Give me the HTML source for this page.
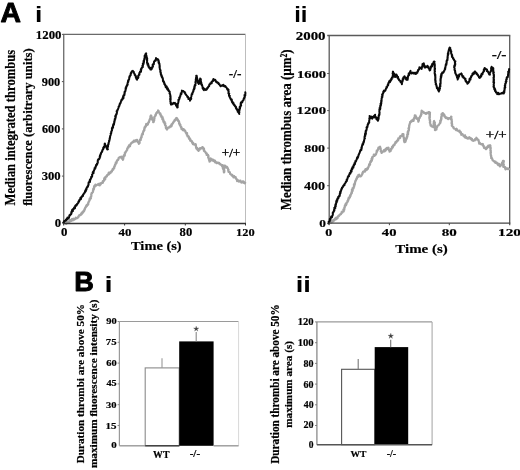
<!DOCTYPE html>
<html><head><meta charset="utf-8">
<style>
html,body{margin:0;padding:0;background:#fff;width:520px;height:470px;overflow:hidden}
svg{display:block;will-change:transform;filter:blur(0.3px)}
</style></head><body>
<svg width="520" height="470" viewBox="0 0 520 470" font-family="Liberation Serif, serif">
<rect width="520" height="470" fill="#fff"/>
<line x1="63.1" y1="34.4" x2="245.5" y2="34.4" stroke="#6a6a6a" stroke-width="1.2"/>
<line x1="245.5" y1="34.4" x2="245.5" y2="223.5" stroke="#bdbdbd" stroke-width="1.0"/>
<line x1="63.7" y1="34.4" x2="63.7" y2="223.5" stroke="#747474" stroke-width="1.4"/>
<line x1="61.900000000000006" y1="34.4" x2="63.7" y2="34.4" stroke="#555" stroke-width="1.0"/>
<line x1="61.900000000000006" y1="81.6" x2="63.7" y2="81.6" stroke="#555" stroke-width="1.0"/>
<line x1="61.900000000000006" y1="128.9" x2="63.7" y2="128.9" stroke="#555" stroke-width="1.0"/>
<line x1="61.900000000000006" y1="176.1" x2="63.7" y2="176.1" stroke="#555" stroke-width="1.0"/>
<polyline fill="none" stroke="#a4a4a4" stroke-width="2.2" stroke-linejoin="round" stroke-linecap="round" points="66.2,223.9 66.0,222.1 67.0,223.1 67.3,222.1 67.7,222.4 68.1,221.4 68.5,221.6 69.1,222.4 69.7,221.4 69.8,220.7 69.9,220.0 70.6,220.3 71.0,221.1 71.6,220.3 71.8,219.1 72.3,219.1 72.8,220.4 73.4,218.7 74.0,219.6 74.3,219.6 74.8,219.2 74.9,219.3 75.8,217.6 76.0,218.4 76.3,217.9 76.7,218.4 77.2,218.0 77.5,217.9 78.2,216.8 78.3,217.4 78.8,216.3 78.8,215.7 79.4,215.1 79.9,215.0 80.3,214.8 80.6,215.2 80.7,214.5 81.1,214.4 81.2,213.3 81.6,214.3 82.0,212.4 82.4,213.2 82.8,211.9 83.0,211.4 83.2,211.4 83.2,212.2 83.4,211.2 84.3,210.3 84.0,211.1 84.4,210.4 84.3,209.4 84.6,209.5 84.8,209.6 85.0,208.8 85.2,207.6 86.0,207.0 85.7,207.5 86.1,206.0 86.8,205.8 86.3,205.7 86.9,206.0 86.8,204.9 87.0,204.7 87.7,204.8 88.1,204.5 88.3,204.0 88.2,202.7 88.6,202.5 88.4,202.3 89.2,201.3 89.1,201.4 89.3,200.5 89.7,200.2 89.7,200.1 89.4,199.9 89.7,198.5 89.8,198.3 90.0,198.7 90.5,198.9 90.9,198.4 90.6,197.0 90.8,196.8 91.2,196.8 91.4,195.3 91.3,195.4 91.2,194.1 91.6,193.8 92.0,193.6 91.7,193.0 92.0,192.6 92.3,192.6 92.3,192.5 92.4,192.6 93.1,191.8 92.9,191.0 93.2,189.7 93.2,190.1 93.2,188.9 93.9,189.0 93.8,189.6 94.0,187.9 94.4,187.6 93.9,187.7 94.1,186.5 94.8,186.7 94.4,185.8 95.0,185.5 95.2,185.4 95.4,184.5 96.1,185.6 96.4,185.3 97.0,184.9 97.6,184.6 98.4,184.5 98.4,183.9 98.9,185.2 99.8,185.3 100.2,183.3 100.6,184.4 101.0,183.6 101.1,183.2 101.8,182.6 102.0,182.7 102.7,182.9 103.0,182.7 102.8,181.2 103.2,180.9 103.4,181.2 104.0,180.6 104.1,179.3 104.0,180.5 104.1,179.1 104.3,178.1 105.2,179.3 105.2,177.3 105.2,177.1 105.7,177.5 105.9,176.9 106.0,176.5 106.9,176.5 106.6,175.7 107.4,174.9 107.8,174.9 108.0,174.4 108.5,174.7 108.6,173.2 108.8,172.6 109.3,173.9 109.4,172.9 110.0,172.4 110.5,173.0 110.9,171.9 111.5,171.3 111.7,171.6 112.0,171.5 111.8,170.7 112.2,170.4 112.9,169.9 112.5,169.2 113.3,169.5 113.5,169.0 113.3,168.8 114.0,167.7 114.4,167.8 114.0,167.2 114.7,165.7 114.9,166.0 114.7,165.9 114.9,165.1 115.4,164.1 115.7,164.0 115.6,164.5 115.8,162.3 116.3,163.3 116.6,162.7 116.7,162.1 116.8,161.0 117.2,160.1 117.1,161.0 117.4,160.5 118.1,159.5 118.3,159.8 118.7,158.2 118.5,158.2 119.0,157.6 118.9,157.7 120.1,157.1 120.3,156.9 120.8,157.5 121.2,156.9 121.5,157.1 122.0,156.7 122.1,157.5 122.2,158.8 122.4,158.6 122.7,158.4 122.8,159.4 122.9,159.8 123.2,159.0 123.1,157.8 123.3,157.4 123.4,158.3 123.4,157.6 123.8,156.3 123.9,155.4 124.2,155.1 124.3,154.9 124.8,155.6 124.7,154.6 125.2,153.6 124.7,153.0 125.0,153.4 125.3,152.3 125.7,151.7 125.9,151.9 125.8,151.9 126.0,151.6 126.6,150.5 126.6,150.9 126.9,150.1 127.2,150.0 127.3,149.7 127.2,148.7 127.8,147.8 127.9,147.1 128.6,147.1 128.5,147.7 128.6,147.4 128.9,145.4 129.3,145.6 130.0,146.2 130.2,145.0 130.3,144.3 130.8,144.2 130.7,144.2 131.0,143.4 131.9,142.7 131.7,142.6 132.2,142.7 132.5,142.2 132.9,141.7 133.5,141.6 133.7,142.1 133.9,140.7 134.9,141.0 135.2,140.3 135.5,141.4 135.8,141.0 136.4,140.1 137.1,139.9 137.0,140.7 137.2,141.4 137.7,141.3 138.0,142.4 138.6,142.5 138.5,142.1 138.9,141.8 138.9,143.9 139.1,143.4 139.7,142.9 139.4,141.3 140.1,140.4 139.8,140.5 140.0,139.7 140.5,139.2 140.9,139.8 140.4,139.8 140.7,138.6 141.1,137.5 141.3,137.0 141.2,138.0 141.8,136.9 141.8,137.1 141.6,135.9 141.8,134.8 141.9,134.5 142.0,134.1 142.4,134.3 142.9,134.4 142.9,133.2 143.2,132.1 142.8,132.9 143.4,131.3 143.3,131.1 143.6,130.9 143.7,131.1 144.2,130.2 144.1,129.3 144.5,130.1 144.2,129.2 144.7,128.7 144.4,128.1 144.7,127.0 145.2,127.4 145.4,127.1 145.6,126.2 145.3,126.3 146.1,126.0 146.1,124.2 146.2,124.0 146.9,124.5 147.0,124.9 147.9,124.5 148.0,123.1 148.0,123.7 148.6,122.2 148.9,122.3 148.8,121.6 149.2,121.3 149.4,120.2 149.6,120.1 149.9,119.5 149.6,119.7 149.8,119.2 150.3,118.2 150.3,118.7 150.5,117.8 150.4,117.2 150.5,116.6 150.4,116.5 150.6,116.1 151.0,115.4 150.8,116.3 151.5,116.1 151.5,117.3 151.8,117.8 151.6,117.3 152.1,117.9 151.7,119.4 152.0,118.8 152.3,119.2 152.8,119.8 152.8,120.4 153.2,120.2 153.3,120.9 153.1,122.2 153.4,120.8 153.7,121.9 153.8,120.7 154.0,121.0 153.6,119.4 154.3,120.1 153.9,119.3 154.5,118.6 154.4,118.1 154.2,117.1 154.3,117.5 154.6,117.0 155.0,116.2 155.6,115.7 155.4,115.2 155.5,114.5 155.9,115.1 155.8,114.9 156.4,112.9 156.8,113.1 157.0,112.2 157.3,112.5 157.8,112.2 158.1,112.1 158.1,110.4 158.6,111.0 158.7,111.8 159.3,112.7 159.7,113.7 159.6,113.4 159.9,114.0 160.4,113.5 160.5,114.9 160.8,115.8 161.0,115.1 161.6,116.1 161.3,116.8 161.7,117.5 162.1,117.7 162.5,117.6 162.7,117.2 162.4,119.1 162.3,119.2 163.2,119.7 163.2,119.0 163.2,120.4 163.2,120.5 163.7,120.5 163.3,121.7 164.2,122.5 164.2,122.0 164.6,121.9 164.4,123.7 165.1,123.4 165.3,123.3 165.2,123.7 165.1,124.4 165.1,125.2 165.5,125.4 165.8,125.5 165.8,126.8 165.9,127.9 165.8,127.5 166.2,127.9 166.7,128.7 166.5,128.9 166.9,129.5 167.6,128.6 167.7,128.2 168.1,127.5 168.4,127.8 169.5,127.4 169.7,126.5 170.0,126.6 170.4,126.0 170.7,126.6 171.5,126.3 171.5,124.4 171.5,125.5 172.2,124.6 172.2,124.4 172.2,124.0 172.5,123.9 172.8,123.1 173.1,122.5 173.3,122.8 173.7,121.5 173.8,121.9 174.3,121.1 174.7,119.8 174.8,120.3 175.0,120.6 175.6,119.2 175.7,119.5 176.0,118.4 176.4,118.0 176.2,118.2 176.9,118.2 177.0,119.6 177.5,119.0 177.9,119.7 177.8,120.3 178.3,121.2 178.5,121.2 178.5,120.5 178.7,121.1 179.2,122.0 179.1,123.1 179.0,123.7 179.3,122.7 179.6,123.8 180.0,124.3 179.6,123.9 179.8,125.2 180.5,124.9 180.4,126.1 181.0,127.4 181.2,127.2 181.2,126.9 181.5,127.2 181.4,128.9 181.8,129.1 182.2,128.6 182.6,129.3 182.7,130.1 183.6,129.1 183.5,130.5 184.2,129.7 184.5,130.0 185.1,130.9 185.1,130.5 185.3,131.5 185.5,131.4 185.7,132.7 186.5,133.4 186.5,133.7 186.4,133.1 187.1,133.1 186.8,135.0 187.1,134.3 187.5,135.9 187.5,136.4 187.9,136.3 188.2,136.0 188.8,136.5 188.9,138.2 189.0,138.7 189.0,137.7 189.5,138.0 190.1,139.2 190.3,139.2 190.1,140.7 190.5,140.3 190.7,140.9 191.3,140.6 191.3,141.2 192.1,141.3 192.0,142.5 192.6,143.2 192.9,143.7 192.9,144.2 193.2,142.9 193.8,144.3 194.5,144.8 195.4,145.0 195.6,144.1 196.0,145.3 195.5,145.5 195.5,145.0 196.1,146.7 196.4,147.3 196.0,147.8 196.7,148.1 196.5,147.9 196.5,148.8 197.5,148.2 197.7,150.0 197.7,150.2 197.9,149.5 198.5,150.9 198.9,149.1 199.6,149.7 199.9,148.8 200.0,148.2 200.3,148.5 200.8,148.6 201.6,147.8 202.2,148.1 202.3,147.0 203.2,147.6 202.7,148.1 203.1,148.0 203.6,148.1 203.4,149.1 204.0,148.7 204.1,150.3 203.8,150.6 204.3,151.1 204.4,150.9 204.7,151.1 205.0,151.7 205.1,151.7 205.6,152.3 206.0,153.3 206.1,153.3 206.5,153.1 206.6,154.9 207.5,155.0 207.2,154.2 207.4,154.9 208.0,154.8 208.2,156.4 208.6,156.0 208.1,157.6 208.5,157.2 208.4,157.5 208.6,158.0 208.7,158.9 209.2,159.0 209.0,159.8 209.4,160.8 209.6,160.2 209.5,160.9 209.5,161.7 209.7,161.0 209.5,160.0 210.4,161.2 210.2,159.3 210.7,159.6 210.7,159.5 210.7,158.3 211.5,159.5 212.1,159.3 212.5,160.4 212.6,160.6 212.7,159.5 213.6,159.9 213.8,161.2 214.4,160.6 214.9,160.5 215.1,162.3 215.5,161.5 216.3,162.6 216.6,163.1 217.1,162.8 217.4,162.9 217.5,162.7 217.9,162.5 218.5,163.4 219.2,163.0 219.5,163.4 219.6,163.8 220.5,164.7 220.5,164.1 220.7,164.6 221.8,165.0 222.0,166.0 221.9,165.2 222.6,165.2 222.7,166.5 222.6,167.0 222.8,167.4 222.8,168.1 223.0,168.7 223.6,168.7 223.0,168.8 223.8,169.8 223.8,170.0 224.0,171.3 223.9,171.2 223.7,170.6 223.9,172.4 224.3,172.0 224.3,170.2 223.7,170.2 223.7,170.3 224.3,170.4 223.7,169.5 224.1,169.1 223.9,167.8 224.2,168.6 224.0,167.5 223.5,166.5 223.6,166.0 223.6,166.3 224.4,165.6 225.0,165.5 225.4,166.7 225.7,166.4 226.2,167.7 226.3,166.5 227.2,166.9 227.2,167.6 227.4,167.6 227.6,167.8 228.1,169.2 228.1,169.2 228.3,170.9 228.6,169.7 228.2,170.3 228.5,171.8 228.9,171.6 229.5,172.5 229.8,172.5 229.9,172.3 230.1,173.6 230.2,174.0 230.4,174.1 231.1,174.5 231.1,174.3 231.7,175.4 232.2,174.9 232.5,175.4 232.7,176.2 233.4,176.1 233.5,177.3 234.1,176.1 234.8,177.5 235.7,177.7 235.7,178.0 235.7,177.2 235.9,178.5 236.4,179.1 236.8,179.8 236.8,179.2 237.1,181.1 237.5,179.7 238.0,180.7 238.3,180.5 239.0,181.7 239.5,180.9 240.0,180.6 240.4,180.6 240.4,180.8 241.3,182.5 241.7,182.0 242.3,182.4 243.0,182.5 242.9,181.3 243.8,181.8 244.1,183.0 244.1,182.0 244.7,183.3 245.2,182.8"/>
<polyline fill="none" stroke="#0a0a0a" stroke-width="2.0" stroke-linejoin="round" stroke-linecap="round" points="63.2,222.7 63.7,222.4 64.2,221.1 64.1,222.1 64.7,220.7 65.5,220.8 65.8,220.4 66.0,219.5 66.3,220.4 66.6,219.8 67.1,218.3 67.5,218.9 67.5,217.5 68.2,218.0 68.5,218.4 68.7,218.1 68.7,217.5 69.0,217.4 69.6,215.5 69.3,215.3 70.1,215.3 70.1,214.7 70.3,214.5 70.4,214.4 70.7,214.6 71.0,214.2 71.3,213.9 71.3,212.0 71.6,213.0 71.8,211.8 71.9,210.8 72.3,211.0 72.2,209.7 73.0,211.0 72.7,210.2 73.3,208.7 73.6,209.4 74.2,207.7 74.3,207.3 74.7,207.4 75.0,208.2 75.0,207.9 75.2,205.8 75.6,205.3 75.6,205.6 76.2,204.8 76.0,205.7 76.5,205.5 77.2,204.0 77.2,203.9 77.6,203.7 77.8,203.3 78.4,202.8 78.3,202.8 78.4,201.6 79.2,201.6 79.1,200.3 79.3,201.0 79.2,200.6 79.9,199.3 80.1,199.6 80.4,199.0 80.7,199.3 80.4,197.7 81.1,198.9 81.1,197.6 81.6,197.0 81.7,196.6 82.0,196.8 82.2,196.0 82.9,195.0 83.0,195.9 83.1,194.6 83.7,194.2 83.5,194.2 84.1,193.1 84.1,193.1 84.7,192.9 84.9,192.0 84.8,192.4 85.4,191.6 85.2,190.6 85.6,190.3 86.0,191.0 85.8,189.6 86.4,189.8 86.6,188.8 86.3,188.2 87.0,187.7 86.9,187.6 87.1,187.1 87.7,186.2 87.2,187.1 88.0,186.7 87.9,186.2 88.4,184.4 88.5,185.1 88.6,184.0 88.5,183.3 88.7,182.3 89.1,182.3 89.5,181.4 89.7,182.1 89.9,182.0 90.1,181.0 89.6,180.9 89.9,179.6 90.5,179.6 90.5,179.9 90.8,178.4 90.7,178.9 91.1,178.3 91.2,176.8 91.5,177.5 91.4,177.0 92.1,176.6 92.2,174.8 92.2,175.9 92.0,174.4 92.3,174.5 92.6,173.9 93.1,172.7 92.7,172.5 93.0,171.9 93.7,172.9 93.3,171.9 93.6,171.1 93.8,171.3 94.1,170.4 94.0,169.9 94.2,169.9 94.8,169.1 94.5,168.3 94.9,168.7 95.3,167.9 95.5,167.9 95.4,167.0 95.6,167.2 95.7,166.7 96.0,165.5 96.2,165.9 96.0,165.0 96.5,165.4 97.0,164.1 97.2,164.4 96.9,163.4 97.0,163.6 97.5,163.3 97.8,162.5 97.9,161.9 97.7,161.5 97.8,160.3 98.5,159.7 98.2,159.3 98.9,159.0 98.5,159.8 98.7,159.4 99.3,158.9 99.7,158.0 99.7,156.6 99.9,157.0 100.0,155.9 100.2,156.9 99.9,155.4 100.4,155.8 100.4,154.2 100.6,154.6 101.1,153.7 101.0,153.3 101.2,152.9 101.2,152.6 102.0,152.0 102.0,151.1 102.2,151.7 102.3,150.8 102.4,150.6 102.9,149.3 102.5,149.9 103.3,149.1 103.2,149.0 103.2,147.7 103.5,147.8 103.8,146.8 104.2,147.6 104.1,146.7 104.4,146.5 104.7,144.9 104.6,144.0 104.9,144.2 104.9,143.6 105.2,144.8 105.2,145.6 105.6,145.4 105.8,146.2 106.3,146.2 106.2,146.9 106.6,146.7 106.7,148.2 106.7,147.3 106.8,148.6 107.3,149.5 107.6,148.6 107.3,149.1 107.3,149.4 107.9,149.3 107.5,148.8 107.6,147.6 108.0,146.5 107.6,147.4 107.8,146.1 108.1,146.2 107.8,145.2 108.2,145.0 108.1,144.7 108.7,143.9 108.5,143.0 108.4,143.5 108.4,143.4 109.1,141.5 109.2,141.6 109.2,141.8 109.0,141.2 109.3,141.0 109.1,140.5 109.7,139.9 109.6,138.4 109.6,138.4 109.9,138.5 109.9,137.2 110.1,137.5 109.9,137.5 110.3,135.7 110.6,135.3 110.3,135.9 110.6,135.1 110.8,134.5 110.7,133.5 110.6,134.0 111.2,133.3 111.4,132.5 111.1,132.1 111.7,131.0 111.6,130.9 111.9,130.7 111.7,130.3 112.0,130.5 112.0,130.2 111.9,128.7 112.0,128.0 112.6,128.6 112.3,127.2 112.6,127.7 113.1,127.3 113.0,125.7 113.0,125.4 113.3,125.6 113.2,124.6 113.7,123.7 113.9,124.8 114.1,123.4 113.9,123.3 114.1,123.6 114.3,121.9 114.6,121.8 114.5,121.7 114.2,121.3 114.8,120.4 114.8,119.9 114.7,119.6 114.7,119.1 115.2,118.5 115.3,119.0 115.6,117.1 115.7,117.5 115.2,116.6 115.5,115.6 115.8,116.7 115.8,116.2 116.1,114.4 116.4,114.8 116.5,114.5 116.5,113.4 116.7,114.0 116.9,112.7 117.0,112.3 116.6,111.1 116.8,110.9 116.9,111.0 117.5,110.7 117.4,110.4 117.5,109.6 118.0,109.1 117.8,109.6 118.4,108.2 118.4,108.0 118.8,107.0 118.6,106.6 119.4,106.0 119.3,105.7 119.4,105.2 119.7,104.8 119.6,104.2 119.9,104.4 120.0,103.2 120.4,103.4 120.8,102.3 120.7,102.5 120.6,103.1 121.0,101.1 121.3,100.7 121.6,100.6 121.5,99.7 122.1,99.6 122.4,99.5 122.7,98.8 122.4,98.3 123.1,98.5 122.9,97.1 123.4,98.3 123.6,96.1 123.3,95.8 123.5,95.3 123.5,95.9 124.3,94.7 124.4,94.7 124.4,95.1 124.7,93.0 124.3,93.6 124.9,92.3 124.6,93.2 124.5,91.9 124.8,92.0 125.4,90.6 125.4,91.2 125.5,90.4 125.7,89.6 125.5,88.9 125.9,89.0 125.6,88.0 126.1,88.3 126.2,87.5 126.2,86.6 126.6,85.9 126.6,86.8 126.9,85.1 126.7,86.0 127.2,85.7 127.5,84.4 127.7,84.5 127.5,83.4 127.5,83.0 128.3,82.0 128.1,81.6 127.9,82.1 128.1,80.6 128.2,81.2 128.7,79.6 128.5,80.9 128.7,79.7 128.9,79.6 129.2,79.2 129.3,77.7 129.2,77.0 129.8,76.6 129.3,77.7 129.6,77.1 129.7,75.9 129.9,76.1 130.4,75.4 130.7,75.3 130.5,74.4 130.8,73.1 131.2,73.5 131.4,72.4 131.3,72.4 131.8,71.4 131.9,71.7 132.0,71.5 132.9,70.9 133.1,71.6 133.0,71.5 133.8,71.9 133.7,71.9 133.7,72.4 134.5,73.8 134.7,74.7 134.7,75.0 134.9,74.5 135.4,75.8 135.6,75.5 135.7,75.8 136.1,77.2 135.8,77.6 135.9,76.5 136.5,77.3 136.5,78.3 136.4,78.9 136.7,78.8 137.0,79.7 137.4,78.5 137.1,78.1 137.5,77.2 137.5,78.0 138.1,78.0 138.4,77.4 138.2,75.7 138.3,75.8 138.6,75.5 138.7,75.6 138.9,74.5 139.5,74.7 139.3,73.2 139.9,72.4 139.6,72.9 140.1,71.8 140.0,71.4 140.7,71.4 141.0,71.6 141.2,69.8 140.8,69.3 141.2,69.4 141.1,69.4 141.3,68.5 141.6,68.9 141.9,67.5 141.8,67.4 142.4,67.4 142.8,67.2 142.4,65.5 142.9,66.2 142.9,65.8 143.0,64.4 142.8,63.5 143.3,64.6 143.6,63.4 143.5,63.7 143.8,62.7 143.6,62.1 143.5,61.0 144.0,62.0 144.0,60.5 144.0,60.2 144.4,59.7 144.6,58.7 144.2,58.9 144.3,59.1 144.7,58.8 144.6,56.7 144.7,57.2 144.7,56.2 144.9,56.9 144.6,56.0 144.8,55.3 145.3,55.6 145.6,53.8 146.2,53.3 145.9,55.0 146.0,54.5 146.6,56.2 146.3,55.7 146.4,55.7 146.5,57.7 146.5,56.8 146.7,57.0 147.0,58.7 147.2,58.9 147.2,58.3 146.9,60.4 146.8,59.7 147.1,60.1 147.2,60.2 147.0,62.3 147.0,62.6 147.1,63.2 147.4,63.1 147.1,62.4 147.6,63.1 147.4,64.7 148.1,63.8 148.4,65.1 148.2,64.7 148.4,66.7 148.6,65.6 148.7,66.1 149.1,67.9 149.1,67.0 150.1,68.9 150.5,67.9 150.4,69.6 150.9,69.5 151.2,68.6 151.4,69.5 151.8,68.8 151.8,68.3 151.9,67.8 152.4,66.8 152.4,67.7 152.7,65.9 153.0,66.6 152.6,65.2 152.7,64.4 153.5,64.6 153.5,63.6 153.1,64.5 153.8,64.3 153.9,63.0 154.1,61.8 154.1,62.0 153.9,61.9 154.4,61.3 154.7,60.5 155.0,60.6 155.7,60.8 155.9,60.2 155.8,60.1 156.0,58.1 156.8,59.3 157.2,59.1 157.7,59.7 158.0,59.3 158.2,60.5 158.7,60.3 158.4,60.9 158.3,61.0 159.0,62.1 158.5,62.7 158.9,63.3 159.0,62.4 159.3,64.0 159.4,64.5 159.6,64.0 159.4,64.8 159.5,65.0 159.7,66.4 159.7,65.6 159.5,66.5 159.8,66.6 159.5,67.4 159.7,67.4 159.9,69.5 160.0,69.6 160.3,70.2 160.4,70.0 160.3,69.8 160.6,70.8 160.3,72.1 160.3,71.3 160.7,72.5 160.3,71.9 160.6,72.4 161.0,73.1 160.7,73.9 160.9,74.5 161.2,75.3 161.3,74.7 161.9,76.2 161.4,76.2 162.1,77.7 161.9,76.3 162.4,77.5 162.9,78.7 162.7,78.4 163.0,79.6 162.9,79.2 162.9,80.1 163.0,81.1 163.5,80.9 163.3,80.7 163.7,82.3 163.9,81.7 164.4,82.8 164.2,82.4 164.2,84.1 164.2,83.9 164.8,84.0 165.1,85.4 165.4,85.5 165.2,84.7 165.5,85.5 165.6,87.0 165.9,87.3 166.7,86.4 166.9,87.4 166.7,87.4 166.8,88.4 167.3,89.4 167.9,88.4 167.9,89.4 168.0,89.6 168.4,90.8 168.7,90.2 168.9,91.3 169.4,91.3 169.7,91.7 169.7,92.9 169.5,93.6 169.8,93.6 170.0,94.3 170.0,93.7 170.4,95.6 170.3,95.5 170.2,96.5 170.5,95.8 170.6,97.6 170.3,98.1 170.4,97.2 170.6,97.9 170.6,98.9 170.1,99.2 170.7,99.6 170.4,100.8 170.4,100.6 170.5,101.7 170.2,100.9 170.7,102.1 170.5,103.2 171.1,103.0 171.3,103.9 171.3,103.4 170.9,104.5 171.6,104.3 171.8,104.5 172.0,104.5 172.6,103.6 172.7,103.7 173.3,103.8 173.6,102.9 174.1,103.2 174.9,102.9 175.0,103.8 175.6,104.1 175.7,103.8 176.1,105.7 176.5,105.4 176.3,105.1 176.4,105.9 177.1,106.0 177.2,107.1 177.0,107.1 177.5,107.4 177.3,107.5 177.1,106.5 177.8,107.1 177.7,106.8 177.3,105.9 177.8,104.6 177.7,105.5 177.7,104.6 177.6,104.0 177.8,103.3 178.0,103.5 178.3,102.4 178.4,101.8 178.6,101.0 178.5,101.2 178.4,99.8 178.4,100.4 178.5,100.2 178.9,100.1 179.3,99.2 179.2,97.5 179.5,98.4 179.9,96.9 179.5,97.9 180.1,96.6 180.3,95.5 180.4,96.0 180.6,94.6 180.4,95.0 181.2,93.7 180.7,93.2 181.4,93.3 181.4,94.0 181.7,92.2 181.9,91.4 181.8,92.2 181.9,90.6 182.6,91.3 183.4,91.0 183.8,91.7 184.3,92.0 184.7,92.0 184.6,92.7 185.3,92.9 185.1,93.5 185.3,93.7 185.8,94.6 186.1,94.5 185.9,94.5 186.4,95.3 186.9,95.7 187.3,96.7 187.6,97.3 187.8,97.1 187.9,96.8 188.6,98.0 188.4,99.1 189.1,98.9 189.3,98.4 190.1,98.9 190.0,100.7 190.2,100.2 190.6,99.3 191.0,99.2 190.5,98.8 190.6,98.8 191.3,98.7 190.9,97.8 191.2,97.0 191.3,96.3 191.3,96.4 191.4,96.6 191.4,96.1 191.7,94.1 192.2,94.5 192.4,94.0 192.4,92.8 192.6,93.1 193.0,91.7 192.6,92.5 193.3,91.6 193.4,91.4 193.3,90.8 193.6,89.5 193.6,90.4 193.7,89.5 193.9,88.8 194.3,89.0 194.6,88.1 194.2,87.4 194.3,86.8 194.8,87.0 194.7,85.8 194.7,85.4 195.1,85.1 195.5,85.2 195.3,84.5 195.1,84.6 195.7,83.4 195.7,82.8 195.4,82.3 195.4,82.5 195.8,82.2 195.5,81.8 195.8,80.7 195.9,80.3 195.7,79.8 196.1,79.9 196.3,78.5 196.4,79.1 196.3,79.0 195.9,78.2 196.5,76.5 196.4,77.5 196.2,76.9 196.7,75.7 196.2,75.7 196.8,76.6 196.5,77.0 197.0,77.1 196.5,78.8 196.8,78.3 197.3,78.5 196.8,80.1 197.0,79.3 197.5,79.8 197.6,80.4 197.4,80.6 197.8,81.6 197.9,82.0 198.0,83.0 198.7,83.2 198.8,82.4 198.6,83.1 198.7,84.0 199.4,83.5 199.3,81.6 199.3,81.0 199.8,81.0 199.5,81.7 199.5,81.2 199.8,80.3 199.7,80.3 200.1,78.9 200.4,78.9 200.2,78.5 200.6,78.8 200.9,79.8 200.5,80.2 200.6,80.6 201.0,81.3 200.9,81.5 201.2,82.8 201.2,83.3 201.4,82.6 201.2,84.3 201.6,83.9 201.7,85.2 201.8,84.8 202.0,84.6 202.3,85.9 202.4,86.3 202.6,87.2 202.6,88.1 202.7,88.4 202.9,88.7 203.2,87.8 203.5,89.7 203.9,90.2 204.5,88.7 204.6,88.8 205.4,89.4 205.9,90.0 206.5,89.6 206.9,89.1 206.8,89.5 207.3,87.8 208.1,87.7 208.2,86.8 208.1,87.6 208.2,86.8 209.0,85.8 209.1,86.3 209.2,85.9 209.5,84.2 209.4,84.7 210.3,83.8 210.3,83.3 210.8,83.5 210.9,83.6 210.9,83.3 211.7,83.2 211.6,81.7 211.8,82.5 212.3,81.2 212.7,81.3 212.8,80.2 213.4,80.6 213.4,78.9 214.3,80.3 214.5,79.9 215.3,80.2 215.2,79.8 215.8,80.9 216.1,81.9 216.6,81.5 216.9,82.1 217.1,82.3 217.3,82.8 217.9,82.6 218.1,83.2 218.6,83.1 218.7,84.1 219.3,84.0 219.3,84.2 219.9,85.3 219.9,84.9 220.6,86.3 221.3,85.6 221.6,85.8 222.5,85.8 222.4,85.4 223.3,84.7 223.9,85.5 224.0,86.3 224.6,86.4 225.2,86.7 225.3,86.1 225.8,87.0 226.2,87.2 226.1,87.1 226.5,87.6 227.3,88.9 227.2,89.5 227.7,88.8 228.1,89.5 228.6,89.8 228.1,90.4 228.7,91.9 228.6,91.1 228.5,92.5 228.4,93.4 229.0,93.8 229.0,93.7 229.3,93.5 229.0,93.7 229.0,95.4 229.0,95.7 229.3,96.4 229.7,96.5 229.8,95.8 229.6,96.8 229.9,97.8 230.5,98.3 230.7,98.7 230.5,98.8 231.0,99.7 230.9,99.3 231.3,99.5 231.8,99.5 231.9,100.7 231.8,101.3 232.2,102.4 232.8,102.1 233.0,103.0 232.8,103.3 233.5,104.0 233.7,103.3 233.5,104.2 233.8,104.7 234.3,105.3 234.4,104.7 235.0,105.7 234.9,105.9 235.1,106.5 235.4,106.2 236.0,107.7 236.1,107.0 235.9,108.2 236.6,108.5 236.4,109.1 236.8,108.9 237.1,109.5 237.3,110.5 237.8,109.7 237.7,111.7 238.0,111.4 238.4,111.0 238.5,112.5 238.6,112.5 238.8,112.6 238.9,113.4 239.3,113.9 239.0,113.4 239.0,112.5 239.0,112.6 239.5,112.0 239.0,111.7 239.1,110.8 239.5,109.4 239.5,110.4 239.7,109.0 240.0,108.6 240.1,108.2 239.6,108.8 239.7,107.0 240.3,106.3 240.3,107.2 240.4,105.9 240.7,106.3 240.7,105.5 240.6,104.6 241.2,105.2 240.6,103.3 240.9,103.9 241.0,102.4 241.5,101.9 242.0,102.1 242.3,102.4 242.1,102.0 242.6,100.7 242.6,101.2 243.3,100.1 243.7,99.5 243.6,98.9 243.7,99.9 243.9,98.1 243.9,98.6 244.1,98.6 244.1,98.1 244.6,97.6 244.6,95.8 244.6,96.3 244.5,94.9 245.2,95.8 245.3,95.3 245.2,94.8 245.4,93.8 245.3,92.3 245.4,92.7"/>
<line x1="63.1" y1="223.5" x2="246.0" y2="223.5" stroke="#333" stroke-width="1.3"/>
<line x1="63.7" y1="223.5" x2="63.7" y2="225.5" stroke="#333" stroke-width="1.0"/>
<line x1="124.6" y1="223.5" x2="124.6" y2="225.5" stroke="#333" stroke-width="1.0"/>
<line x1="185.3" y1="223.5" x2="185.3" y2="225.5" stroke="#333" stroke-width="1.0"/>
<line x1="245.5" y1="223.5" x2="245.5" y2="225.5" stroke="#333" stroke-width="1.0"/>
<line x1="327.2" y1="35.5" x2="510.3" y2="35.5" stroke="#5a5a5a" stroke-width="1.3"/>
<line x1="509.7" y1="35.5" x2="509.7" y2="225.2" stroke="#5a5a5a" stroke-width="1.3"/>
<line x1="329.2" y1="35.5" x2="329.2" y2="223.2" stroke="#5a5a5a" stroke-width="1.3"/>
<line x1="327.2" y1="73.5" x2="329.2" y2="73.5" stroke="#555" stroke-width="1.0"/>
<line x1="327.2" y1="110.6" x2="329.2" y2="110.6" stroke="#555" stroke-width="1.0"/>
<line x1="327.2" y1="148.1" x2="329.2" y2="148.1" stroke="#555" stroke-width="1.0"/>
<line x1="327.2" y1="185.7" x2="329.2" y2="185.7" stroke="#555" stroke-width="1.0"/>
<line x1="327.2" y1="223.2" x2="329.2" y2="223.2" stroke="#555" stroke-width="1.0"/>
<polyline fill="none" stroke="#a4a4a4" stroke-width="2.2" stroke-linejoin="round" stroke-linecap="round" points="329.7,222.4 330.2,222.2 330.4,222.3 331.4,222.7 331.7,221.4 331.9,221.2 332.0,220.6 332.4,221.8 333.3,221.3 333.6,219.8 333.7,220.3 334.4,220.4 334.9,218.8 335.0,219.5 335.4,218.4 335.7,217.9 336.5,219.0 336.6,217.7 337.2,217.9 337.6,218.1 337.7,217.0 338.1,216.7 338.1,216.2 338.9,215.4 338.7,216.1 339.2,215.6 339.7,214.9 340.4,214.3 340.4,213.9 340.9,213.7 341.0,214.2 341.2,213.5 341.9,212.3 341.6,212.1 342.4,212.5 342.3,211.6 342.5,211.4 342.7,211.4 343.6,211.5 343.8,211.1 343.4,209.5 344.3,209.9 344.1,209.8 344.4,209.1 344.3,207.5 344.6,207.0 344.7,208.0 344.9,205.9 344.8,205.7 345.5,205.6 345.3,204.7 346.1,204.9 345.7,203.8 345.8,203.6 346.5,203.1 346.2,203.3 346.6,203.8 346.7,202.6 347.4,202.0 347.7,201.7 347.4,201.2 347.5,200.8 347.8,201.2 348.4,200.1 348.1,199.2 348.4,198.7 348.6,199.4 348.7,197.5 349.5,198.0 349.8,197.2 349.9,197.3 350.0,197.0 350.0,195.4 350.0,196.3 350.6,196.0 350.4,195.1 350.9,194.7 351.1,194.0 351.2,193.9 351.1,193.9 351.7,191.9 351.9,193.1 351.9,191.0 352.2,190.7 352.4,191.3 351.9,189.9 352.5,190.2 352.7,190.4 352.5,188.3 353.2,187.9 353.3,187.7 353.5,188.4 353.7,187.6 353.8,186.5 353.9,186.3 354.2,186.7 354.0,185.8 353.9,184.5 354.5,184.9 354.8,184.6 354.4,183.8 355.0,183.6 354.6,183.7 355.3,181.9 355.2,182.0 355.5,181.4 355.2,181.3 355.9,180.2 355.4,180.7 356.1,180.0 356.0,180.2 356.5,178.4 356.8,178.2 356.6,179.0 357.0,178.5 357.0,178.2 357.3,176.5 357.7,176.4 358.0,177.1 358.4,175.0 358.3,175.6 358.7,175.5 359.2,174.6 359.5,176.2 360.1,176.3 361.0,176.3 361.1,175.9 361.1,176.0 361.5,175.6 361.6,175.1 362.3,174.2 362.3,173.0 362.8,173.0 363.1,172.2 363.0,171.9 363.8,171.6 364.2,171.6 364.3,171.3 364.7,170.5 364.9,171.7 365.0,170.8 365.4,169.9 365.5,169.0 366.5,170.2 366.8,169.8 367.2,168.3 367.2,168.6 367.6,169.1 367.9,168.7 367.7,167.7 368.3,167.4 368.5,167.2 368.5,166.9 368.8,165.9 369.3,165.6 369.1,164.3 369.4,164.6 370.1,164.7 369.9,163.3 370.4,162.7 370.3,161.7 370.3,162.3 370.9,161.9 370.9,162.1 371.3,160.2 371.1,161.3 371.9,160.7 371.8,159.2 371.6,158.7 371.9,159.4 372.5,158.7 372.1,157.3 372.4,158.2 372.5,157.5 373.0,156.6 373.6,155.8 373.7,155.3 373.8,154.7 374.4,154.6 374.6,155.8 375.1,155.3 375.7,154.6 375.9,154.5 376.2,153.7 376.2,153.2 376.6,152.5 376.6,151.4 377.1,151.5 376.8,150.5 377.6,150.3 377.4,150.6 378.0,149.6 377.9,149.4 377.8,149.8 378.0,149.5 378.4,147.7 379.1,148.5 378.9,147.6 379.2,147.5 379.3,147.3 380.1,146.7 380.1,147.5 379.9,147.8 380.3,147.8 379.9,148.3 380.6,148.2 380.6,149.7 380.7,148.6 380.8,149.4 381.1,150.6 380.8,151.4 381.2,150.9 381.5,152.3 381.7,152.7 381.6,152.9 382.0,152.3 382.7,151.7 382.5,152.1 383.2,151.5 383.7,150.7 383.9,150.1 384.7,151.3 385.0,149.6 385.6,150.6 385.7,148.8 386.3,149.6 386.5,148.2 387.0,147.9 387.2,147.8 387.5,148.8 388.2,148.4 388.1,148.0 388.5,147.7 388.6,149.8 389.1,150.0 389.0,150.1 389.6,150.5 389.6,149.9 389.5,151.6 390.4,150.9 390.5,150.7 390.7,151.1 390.7,150.3 390.9,149.7 390.9,148.8 391.3,149.5 391.5,148.8 391.7,148.8 392.0,146.8 392.2,147.9 392.8,147.4 392.9,145.6 393.1,145.8 393.8,144.9 393.6,145.8 393.7,145.6 394.2,144.5 394.7,144.8 394.6,144.3 394.9,143.7 395.1,143.4 395.5,142.0 395.7,141.8 396.2,142.6 396.6,141.1 397.2,140.4 396.9,141.5 397.8,140.6 398.1,139.1 398.3,139.9 398.4,139.8 398.3,138.3 398.7,138.4 399.3,138.2 399.5,138.2 400.1,137.9 399.9,136.5 400.3,136.3 400.9,135.9 401.3,135.9 401.4,136.2 402.2,135.0 402.1,136.1 402.4,134.1 402.7,135.3 403.5,135.2 403.4,134.0 403.3,135.7 403.4,135.1 403.5,136.1 403.5,136.6 403.4,136.3 404.0,138.0 403.8,137.3 403.8,138.6 404.3,138.9 404.4,139.4 403.9,140.0 404.2,140.4 404.4,139.8 404.3,141.7 404.1,140.8 404.2,141.7 404.5,142.2 404.9,141.4 404.9,141.9 405.4,141.9 405.9,140.2 405.8,140.3 406.1,139.5 406.4,138.8 406.3,138.2 406.7,138.6 406.9,137.3 406.9,137.7 406.5,137.7 407.3,135.9 407.4,136.7 407.3,135.8 407.2,134.5 407.5,135.5 407.4,134.4 407.5,134.3 408.1,134.2 407.7,132.9 407.6,132.7 408.3,132.8 407.8,131.6 407.9,131.2 408.6,130.5 408.6,131.2 408.7,129.4 408.9,130.3 409.0,128.2 408.4,128.2 408.9,128.0 408.7,128.0 409.2,127.5 409.1,126.9 409.4,125.6 409.3,125.3 409.1,126.0 409.4,124.7 409.5,124.7 409.5,124.3 409.6,124.4 409.8,123.6 410.2,122.5 410.2,121.8 410.9,121.9 411.1,121.1 411.6,120.7 411.9,121.3 412.3,120.8 412.7,119.9 413.4,120.5 413.6,120.8 413.8,119.4 413.8,118.9 414.0,118.4 414.0,118.3 414.3,117.6 414.7,117.1 415.0,117.5 414.7,117.1 414.8,115.3 415.6,115.5 415.2,117.4 415.5,117.4 416.2,116.9 416.2,118.6 416.6,117.7 417.0,118.9 417.0,118.2 417.6,118.6 417.3,118.9 418.2,120.0 418.2,120.7 418.5,120.7 418.3,121.7 418.2,120.7 418.9,120.6 418.8,120.8 418.9,120.0 419.0,118.4 419.1,118.2 419.0,117.9 419.2,117.8 419.8,117.9 420.0,116.6 420.0,117.2 420.0,116.8 420.0,116.4 420.8,116.1 421.0,115.2 420.9,114.8 421.5,114.2 421.5,114.4 421.3,112.8 421.2,113.3 421.7,112.5 421.5,111.1 421.7,111.9 421.7,110.6 422.1,111.6 422.2,112.0 422.4,112.0 423.3,111.9 423.6,111.9 423.5,112.3 424.1,113.1 424.8,113.1 425.6,113.5 426.0,113.9 426.6,113.4 426.6,112.9 427.4,113.2 428.0,113.0 428.3,112.2 428.8,112.0 429.3,112.0 429.4,113.4 430.0,112.7 429.4,114.1 429.9,113.4 429.9,115.0 429.8,114.5 429.4,114.6 429.7,116.2 429.8,115.8 429.9,116.0 429.8,116.6 429.3,117.1 429.9,117.6 429.4,118.5 429.6,119.2 429.8,119.9 430.0,119.7 429.9,119.8 429.7,120.2 430.2,121.2 430.1,122.6 429.9,121.9 429.9,122.9 430.0,122.6 430.4,124.2 430.5,125.0 430.6,125.4 430.9,125.0 431.3,126.3 431.0,125.3 431.4,126.2 432.2,126.6 432.6,126.6 432.8,126.6 433.2,126.9 432.8,126.7 433.3,127.1 433.2,126.7 433.6,124.9 433.7,125.8 433.9,124.9 433.6,124.2 433.8,123.9 433.6,123.9 433.9,122.0 433.8,121.6 434.0,121.1 434.1,121.0 434.5,122.4 434.1,123.0 434.5,122.5 434.9,122.5 434.6,124.0 434.4,124.3 435.0,124.5 434.9,124.7 435.1,126.5 434.6,126.6 434.7,125.7 434.7,127.4 434.9,127.5 434.7,127.3 434.9,128.4 435.2,128.7 434.9,130.0 435.2,130.2 435.3,130.2 435.4,129.0 436.1,129.6 436.5,129.5 436.4,128.4 437.0,127.2 436.8,127.6 437.1,127.3 437.0,126.7 437.3,126.1 437.6,125.7 438.3,125.5 438.3,125.3 439.0,124.7 439.0,124.6 439.6,123.6 439.8,123.2 440.1,123.0 440.2,122.2 440.1,122.2 440.5,122.7 440.2,120.9 440.8,121.1 440.7,120.6 440.8,120.5 440.9,119.3 441.0,120.4 441.3,119.5 441.5,118.5 441.2,118.7 441.1,118.2 441.2,117.5 441.5,117.3 441.3,116.7 441.9,115.1 441.9,115.1 442.0,115.9 441.5,114.4 442.1,115.1 442.7,113.0 442.4,113.3 443.1,113.6 443.2,114.3 443.6,114.6 443.6,113.9 443.9,115.1 444.3,114.6 443.8,115.3 444.2,115.8 444.5,116.5 445.1,116.2 445.3,117.0 445.6,117.8 446.1,118.2 446.5,117.6 447.5,118.0 447.8,118.9 448.1,119.1 448.8,118.1 449.1,118.1 449.8,118.4 450.2,118.8 450.7,118.4 450.6,117.8 451.1,117.7 451.1,116.6 451.4,116.7 451.2,117.7 451.2,118.5 451.2,117.9 451.5,119.0 451.8,120.1 451.4,119.7 451.6,120.3 451.6,120.6 451.9,121.9 451.8,122.1 452.0,121.7 452.0,122.1 451.5,123.1 451.6,123.1 451.9,123.4 451.8,124.2 452.2,124.2 452.0,125.4 451.8,125.6 452.2,126.0 452.7,126.7 453.0,126.8 453.5,127.2 453.4,127.9 454.0,128.6 454.1,128.4 454.7,128.8 455.5,129.0 455.7,129.7 455.9,130.0 456.4,129.6 456.6,128.7 457.1,129.9 457.5,130.6 457.9,130.7 458.8,131.1 459.3,131.6 459.6,130.6 459.8,131.3 460.1,132.5 460.6,131.9 460.5,132.1 461.2,133.8 461.0,132.9 461.3,134.8 461.6,134.5 462.5,134.1 462.8,134.6 463.3,135.0 463.4,136.0 464.2,136.4 464.8,136.5 465.1,135.3 464.9,137.3 465.7,137.3 466.1,136.9 466.3,137.8 466.2,137.9 467.1,138.3 467.3,137.8 467.5,138.4 468.0,138.7 468.3,138.0 468.8,137.9 469.2,137.2 469.4,137.8 469.8,137.8 470.1,138.7 470.4,138.0 470.9,139.2 471.5,138.5 471.5,139.7 472.0,139.0 472.1,140.3 472.9,140.7 472.9,140.4 473.3,140.8 473.8,140.5 474.3,140.0 474.8,139.7 474.7,140.4 475.0,139.2 475.7,139.3 476.0,139.5 476.4,137.7 476.3,138.0 476.6,139.1 477.1,139.5 477.3,138.9 478.1,139.8 478.4,140.3 478.4,139.8 478.5,140.0 478.8,141.5 478.8,141.5 479.1,142.9 479.3,143.1 479.2,143.7 479.5,142.6 480.3,143.5 480.7,143.9 480.9,144.1 481.4,144.2 482.0,143.9 482.5,145.1 482.9,144.1 482.8,144.7 482.9,145.7 483.6,145.5 483.9,147.2 484.3,147.4 484.0,147.8 484.7,147.3 485.2,147.7 485.6,149.0 485.7,147.9 486.4,148.3 486.2,149.2 486.6,147.8 487.0,148.2 487.1,147.1 487.3,146.7 488.1,147.0 488.3,147.1 488.3,145.7 489.2,145.6 490.0,145.1 490.4,145.7 490.3,146.6 490.1,145.9 490.2,147.1 490.5,147.4 490.5,147.9 490.6,147.4 490.7,148.6 490.3,148.4 490.6,149.0 490.5,150.0 490.4,150.0 490.4,150.6 490.9,150.9 490.6,151.2 490.9,152.7 490.6,153.3 490.5,152.5 490.7,154.2 490.7,154.5 490.8,154.2 490.8,155.6 491.1,156.2 491.3,156.0 491.2,156.5 491.4,157.6 491.1,156.7 491.8,158.0 491.5,158.1 491.1,158.1 492.1,158.5 492.3,159.3 492.3,158.9 492.6,160.4 493.1,160.4 493.7,161.2 493.7,160.9 494.5,161.7 494.7,162.0 495.3,162.7 495.5,161.6 495.6,162.9 496.4,162.8 496.8,162.7 497.0,163.3 497.7,164.6 497.8,163.4 498.2,165.1 499.1,163.9 499.1,165.0 499.9,165.4 499.9,166.5 500.5,165.9 500.8,165.7 501.0,164.9 501.1,164.3 501.7,164.4 502.0,163.5 502.0,162.7 502.2,163.2 502.7,162.5 503.0,160.8 503.2,160.8 503.8,161.0 503.4,161.2 503.8,161.7 503.6,161.9 503.4,163.0 503.3,163.3 503.7,164.4 503.5,164.2 503.9,165.0 503.8,164.9 503.2,166.0 503.2,166.2 503.3,166.9 504.0,166.7 504.2,166.7 504.9,167.5 505.2,167.1 504.9,167.5 505.5,169.4 505.8,168.6 506.9,168.3 506.9,168.3 507.3,169.0 508.1,168.5 508.6,169.1 509.1,169.2"/>
<polyline fill="none" stroke="#0a0a0a" stroke-width="2.0" stroke-linejoin="round" stroke-linecap="round" points="328.5,223.5 328.8,223.5 329.0,223.0 328.7,221.7 329.6,221.6 329.8,220.2 329.7,220.0 330.0,220.1 329.8,219.0 330.2,219.8 330.8,218.1 331.0,217.6 331.1,217.1 330.9,218.0 331.2,216.4 332.0,217.2 331.7,216.9 332.1,216.0 332.1,216.0 332.6,215.6 332.9,214.0 332.7,213.3 332.7,212.7 333.0,213.2 332.9,212.9 333.3,211.8 333.9,211.7 333.7,211.3 334.1,210.1 334.4,209.6 334.4,210.6 334.0,210.0 334.4,209.2 334.3,207.8 334.5,209.0 334.7,208.2 335.3,208.1 335.1,206.6 335.3,206.9 335.1,206.4 335.8,206.1 335.3,205.7 335.5,204.2 336.0,204.7 335.9,204.2 336.2,202.6 336.2,201.9 336.2,201.4 336.7,202.5 336.5,200.4 337.3,200.8 337.0,199.9 337.3,200.5 337.4,199.3 337.2,199.8 337.4,198.6 338.2,197.5 338.3,198.5 338.5,197.8 338.3,196.7 338.6,197.1 338.9,195.9 339.6,196.2 339.8,195.0 339.7,195.1 339.8,193.8 339.9,193.1 340.0,194.1 340.5,193.0 340.3,192.0 340.2,191.4 340.8,191.9 340.6,191.3 341.1,190.7 341.2,190.4 341.2,189.9 341.3,189.1 341.9,189.0 341.8,189.0 342.2,187.9 342.0,187.5 342.3,187.3 342.7,187.1 343.1,186.7 343.1,186.0 343.6,185.9 343.5,185.5 344.2,184.8 344.6,184.9 344.6,183.7 344.6,183.8 345.5,182.8 345.6,182.8 345.9,181.4 346.2,181.7 346.4,181.1 346.6,181.3 346.8,180.8 346.7,179.4 347.2,179.8 347.2,179.5 347.7,177.9 347.8,177.8 347.7,177.2 348.1,176.8 348.3,176.1 348.7,176.3 349.0,176.3 348.9,176.4 348.9,175.1 349.3,174.7 349.3,175.0 349.7,173.2 350.1,172.8 350.2,172.9 350.4,173.6 350.7,172.2 350.9,172.1 350.8,170.8 351.1,171.2 351.6,171.5 351.5,169.9 351.9,168.9 351.5,169.5 352.1,168.3 352.3,169.2 352.3,168.0 352.4,167.3 353.2,167.1 353.4,167.6 353.3,166.0 353.8,166.1 353.6,165.3 354.2,165.2 353.9,164.8 354.0,164.6 354.5,163.6 354.9,164.2 354.5,163.2 354.9,163.6 355.5,161.9 355.3,161.3 356.1,161.2 356.0,161.1 356.2,160.9 356.5,159.6 356.7,159.5 356.7,159.2 356.7,159.1 357.0,158.4 357.4,158.4 357.1,157.4 357.6,158.1 358.1,157.1 357.6,157.1 358.1,156.3 358.5,155.9 358.5,156.0 358.6,154.7 359.1,153.9 358.9,154.6 358.9,154.2 359.5,153.1 359.4,153.3 360.0,151.7 359.9,152.0 360.1,151.2 360.0,151.2 360.6,149.9 360.4,150.8 361.0,150.1 360.6,149.8 361.4,149.9 361.4,147.7 361.7,147.6 361.7,148.5 361.9,146.6 361.8,147.6 361.8,146.6 362.2,145.4 362.5,144.7 362.3,144.9 362.5,143.9 363.0,144.7 363.4,143.1 363.2,143.0 363.4,142.9 363.8,142.2 363.3,142.4 363.5,141.8 363.9,141.9 364.1,140.9 364.0,140.3 364.2,140.2 364.5,138.7 364.4,138.7 364.8,137.9 364.9,138.3 364.5,137.8 364.6,136.4 365.1,136.1 365.3,136.1 365.0,136.2 364.9,135.6 365.0,134.1 365.7,134.6 365.2,133.2 365.9,133.7 365.8,132.3 365.8,132.2 365.6,131.7 365.9,131.3 365.8,130.4 366.3,130.9 366.4,130.1 366.6,129.8 366.6,129.4 366.8,128.7 366.5,127.6 366.7,127.1 367.3,127.5 367.4,126.2 367.3,127.3 367.6,126.1 367.6,125.0 367.6,124.7 367.9,124.7 368.4,123.8 368.1,123.6 368.2,123.2 368.4,123.1 368.5,123.5 368.9,123.1 369.3,122.1 369.3,122.2 369.1,121.2 369.2,120.7 369.6,119.3 369.3,118.6 369.4,118.2 369.5,119.3 369.6,117.6 369.7,117.1 369.9,117.4 369.6,116.0 370.3,117.6 370.7,116.9 371.3,116.5 371.0,118.1 371.6,117.1 372.2,118.7 372.7,117.4 372.9,116.8 374.0,117.4 374.3,116.2 374.1,115.8 374.5,115.5 374.7,115.7 375.1,114.7 375.0,116.8 375.3,116.4 375.7,116.8 375.6,116.9 375.8,117.7 376.6,118.2 376.7,118.0 376.3,119.0 377.0,119.4 377.3,119.9 377.9,120.8 378.0,120.3 378.4,119.5 378.0,119.2 378.1,119.6 378.7,118.3 378.3,117.4 378.5,117.0 378.7,117.4 378.6,116.0 379.1,115.6 378.8,115.6 379.0,114.8 379.1,114.7 379.4,114.6 379.5,114.3 379.5,113.7 379.3,113.6 379.5,113.4 379.6,112.4 379.3,112.1 379.5,110.4 379.3,110.0 379.5,110.5 379.6,108.9 380.0,109.4 379.6,108.0 379.7,108.1 380.3,108.7 380.3,107.0 380.2,106.8 380.2,105.7 380.5,106.7 380.7,105.0 380.6,104.7 380.8,104.7 381.1,104.9 380.6,103.6 381.3,103.4 381.0,102.9 381.3,103.4 381.3,103.0 381.4,101.0 381.6,101.1 381.2,101.7 381.2,100.5 381.6,100.5 381.6,98.8 381.6,98.3 381.9,98.1 382.1,97.4 381.8,96.9 382.3,97.5 382.4,96.7 382.2,95.3 382.6,95.5 382.1,94.5 382.3,95.0 383.0,93.6 383.0,93.3 383.0,93.9 383.2,93.4 383.3,91.6 383.7,92.2 383.7,91.5 384.0,90.5 384.3,90.7 384.6,90.9 384.8,91.1 385.4,90.5 385.6,89.7 385.7,89.5 385.9,88.7 386.4,88.2 386.4,87.0 386.5,87.0 387.0,87.3 387.3,86.1 387.7,85.6 387.7,84.7 387.9,85.4 388.2,85.3 388.2,84.8 388.4,83.9 388.2,83.3 388.9,82.4 389.1,82.5 389.1,81.2 389.4,81.2 389.9,82.1 390.4,81.3 390.4,80.0 390.9,80.5 391.2,79.7 391.5,79.0 391.3,78.7 391.7,79.4 391.6,78.5 392.3,77.3 392.0,77.5 392.7,77.6 392.9,76.4 392.7,76.1 393.1,75.2 392.7,75.2 393.2,74.0 392.6,73.4 393.0,73.7 392.8,72.5 393.2,72.8 393.3,72.5 392.9,71.6 393.6,72.9 393.3,73.1 393.7,73.7 393.6,73.7 394.1,73.8 393.7,73.7 393.9,74.0 394.0,75.4 394.1,76.1 394.7,76.6 394.9,76.9 395.4,76.9 395.6,76.6 395.6,74.6 395.9,74.5 396.5,74.5 396.9,75.5 396.6,75.3 397.1,75.7 397.0,76.5 397.3,77.1 397.6,78.0 398.1,76.9 398.1,78.5 398.0,77.8 398.4,78.6 398.9,80.0 398.9,79.2 399.3,80.3 399.8,80.4 399.8,80.4 400.5,81.1 400.2,81.3 400.6,82.1 400.8,81.8 401.1,82.6 402.0,83.1 401.9,84.2 401.8,82.7 402.5,81.6 402.5,81.8 402.1,81.1 402.5,80.9 402.7,79.9 402.6,81.1 402.9,79.7 402.7,78.9 403.5,79.2 403.3,77.6 403.3,78.5 403.5,77.7 404.3,77.5 404.5,76.2 404.6,77.2 405.3,77.2 405.8,77.7 405.6,78.3 406.1,78.5 405.8,78.7 406.2,79.5 406.8,78.6 406.5,79.1 406.7,79.6 407.0,79.7 406.8,79.9 406.9,79.3 407.6,79.8 407.2,77.8 407.8,79.0 407.8,77.1 407.7,78.0 408.3,76.0 407.9,76.3 408.1,76.4 408.3,76.0 408.4,75.1 409.2,75.0 408.7,73.5 409.3,73.5 409.4,73.3 409.7,73.7 409.7,72.6 409.9,72.1 410.5,70.9 410.6,72.3 410.6,72.8 411.2,72.6 411.7,73.5 411.6,73.3 412.0,73.4 412.7,72.5 413.1,73.0 413.8,73.6 414.1,72.7 414.9,73.6 415.5,74.0 415.6,72.7 416.5,72.8 416.4,73.7 416.8,72.7 417.4,72.2 417.4,72.8 417.4,71.5 417.9,71.6 418.0,71.0 418.1,69.9 418.4,69.6 419.1,69.4 418.7,69.9 419.2,68.5 419.5,68.8 419.3,68.4 419.4,67.3 420.3,67.9 420.8,67.7 420.7,67.7 421.6,68.9 421.2,67.5 421.9,67.9 422.1,66.7 422.1,66.4 422.4,66.8 422.4,65.7 422.8,65.1 422.4,65.7 422.5,64.1 423.0,64.7 423.4,64.4 423.0,63.9 423.8,63.4 423.9,64.0 423.8,64.0 424.3,65.4 424.6,65.7 424.3,65.7 424.6,67.4 424.8,66.3 425.1,66.7 425.6,67.5 426.2,66.5 426.2,66.8 427.1,66.5 427.4,67.2 427.5,65.8 428.0,66.7 428.5,67.2 428.5,67.4 428.8,68.6 428.6,67.7 428.8,68.6 429.4,68.9 429.4,70.1 429.8,69.6 429.9,70.4 429.6,70.5 430.3,69.9 429.9,70.2 430.4,69.1 430.8,68.0 430.8,67.7 430.7,66.8 431.4,66.9 431.7,65.9 431.5,65.6 432.2,66.3 432.4,65.4 432.0,64.8 432.3,63.7 432.8,63.8 432.7,63.8 433.6,64.1 433.5,62.2 433.9,61.8 434.0,61.4 434.6,61.8 434.2,61.7 434.3,63.5 434.3,62.5 434.4,64.3 434.3,64.2 434.8,64.1 434.7,65.0 434.3,64.6 434.9,65.8 434.6,67.0 434.7,66.7 434.6,67.6 434.6,67.6 435.0,68.3 434.6,68.0 435.0,69.4 434.6,70.4 434.6,69.3 434.6,70.3 435.0,71.5 434.7,71.7 434.6,71.9 434.7,72.0 434.6,73.1 434.7,73.6 434.9,73.8 435.1,74.0 435.3,75.3 434.9,74.7 435.3,74.8 435.0,75.7 435.4,75.7 435.2,77.2 435.3,76.3 435.4,77.4 435.4,78.4 435.1,79.2 435.3,78.8 435.3,79.5 435.3,80.2 435.4,79.8 435.2,80.0 435.5,81.8 435.7,81.0 435.5,82.2 435.4,82.2 436.1,83.8 435.7,84.2 436.1,83.9 436.2,84.1 436.0,84.1 436.4,85.6 436.6,85.9 436.4,86.0 436.8,86.6 436.8,87.8 436.9,88.1 436.8,87.7 437.6,87.9 437.2,88.1 437.9,88.7 437.9,89.7 438.4,90.2 438.4,89.8 438.8,91.6 438.9,91.3 439.1,90.7 439.5,90.1 439.1,90.1 440.0,88.5 439.6,88.3 439.6,87.9 439.7,87.2 439.6,87.1 439.9,87.2 440.0,85.7 440.4,86.6 440.3,84.9 440.1,84.9 440.1,83.7 440.2,84.6 440.4,84.3 440.5,83.7 440.6,83.5 440.6,82.1 440.5,82.1 440.7,81.8 440.5,80.4 440.4,80.1 440.7,80.5 440.4,79.7 440.9,78.9 440.5,78.9 440.8,77.6 440.8,76.9 440.8,77.2 440.8,76.0 441.2,77.2 441.5,75.6 441.7,74.7 441.2,74.1 441.2,74.8 441.8,74.1 441.9,73.6 442.1,73.4 442.2,72.4 442.5,72.6 443.2,72.0 443.3,72.8 443.5,72.1 443.8,71.9 444.2,70.4 444.4,70.5 444.3,70.9 444.8,69.5 444.9,68.7 444.9,68.2 445.2,69.3 445.3,67.3 445.4,67.6 445.5,66.6 445.5,66.7 445.5,66.7 445.7,65.5 445.7,65.1 446.4,64.6 445.9,64.3 446.6,63.4 446.3,63.2 446.6,63.2 446.3,63.4 446.5,62.7 446.7,62.6 446.5,61.0 446.8,60.6 447.3,60.6 447.0,60.1 447.5,59.8 447.3,59.5 447.5,58.6 447.5,57.7 447.6,58.6 447.5,57.2 447.8,57.2 447.6,56.5 448.0,55.3 447.6,56.1 448.3,54.4 447.8,55.0 448.0,54.6 447.8,53.8 448.0,53.1 448.5,53.0 448.6,53.1 448.5,52.7 448.3,51.6 448.4,51.4 448.4,51.4 448.6,50.8 449.1,50.6 448.8,50.0 449.3,48.2 449.4,48.9 449.5,47.7 449.6,47.5 450.3,48.0 449.9,48.8 450.2,49.3 450.3,49.2 450.2,50.6 450.8,50.0 450.8,51.1 451.0,52.1 451.3,51.5 451.1,52.5 451.2,53.6 451.2,53.3 451.5,53.8 451.4,53.7 452.2,55.2 451.8,55.0 451.8,54.9 452.0,56.9 452.2,56.1 452.2,56.3 452.9,57.9 453.0,58.5 453.2,57.9 453.1,58.4 453.3,58.7 454.1,59.7 453.8,59.7 454.8,61.1 455.0,61.3 455.4,61.3 455.3,61.7 455.2,61.2 455.1,62.4 454.9,62.2 454.9,63.2 455.3,63.8 455.2,64.8 454.9,64.5 454.7,64.9 454.8,66.3 454.8,65.8 454.3,65.7 454.5,66.6 454.0,67.1 454.3,67.4 454.7,68.5 454.5,69.3 454.6,70.0 454.6,69.9 455.1,70.6 455.0,71.3 455.2,71.4 454.9,70.9 455.3,72.0 455.1,72.8 455.4,72.8 455.7,73.9 455.7,73.8 456.1,74.4 456.0,74.2 456.3,75.2 456.6,74.8 456.6,76.0 456.6,75.6 457.3,75.9 457.1,76.9 457.0,77.3 457.2,78.1 457.9,78.0 457.7,79.6 458.0,77.9 457.9,77.9 458.5,77.8 458.2,77.4 458.5,76.4 458.7,77.0 458.7,76.2 459.1,76.5 459.1,74.5 459.2,75.1 459.2,74.7 459.6,74.4 460.1,74.2 460.7,74.0 461.0,73.8 460.9,74.0 461.4,73.4 461.8,74.2 461.9,75.1 462.3,75.9 462.4,76.7 462.7,76.4 463.4,76.3 463.5,77.8 463.4,77.8 464.1,77.7 464.6,78.6 464.4,78.3 465.0,79.1 465.4,79.7 465.5,78.8 465.4,80.7 466.0,80.8 465.8,81.3 466.1,81.5 466.5,82.2 466.9,82.7 467.1,82.2 467.5,82.6 467.4,83.7 468.0,83.2 468.0,82.2 468.9,81.9 468.6,82.4 468.8,81.7 469.3,81.7 469.4,80.2 469.5,79.8 469.5,79.0 469.8,78.9 470.5,79.6 470.4,77.9 470.6,78.1 471.0,76.8 471.2,76.6 471.2,77.1 471.3,76.0 472.0,75.8 472.3,74.9 472.6,74.0 472.8,74.3 472.5,73.6 473.6,74.1 473.7,73.9 473.6,72.6 474.3,73.4 474.9,71.6 475.4,72.0 475.2,71.5 475.6,72.7 476.0,72.6 476.7,73.3 476.6,74.2 476.9,73.9 477.1,73.9 478.0,75.1 477.9,75.6 478.2,75.7 478.2,75.5 478.2,75.9 478.7,76.1 479.1,77.1 479.0,77.5 479.4,77.8 479.9,77.9 479.6,76.8 480.5,77.2 480.4,77.1 480.5,77.0 481.3,76.2 480.9,75.3 481.7,75.2 481.5,74.1 481.6,74.2 481.9,73.6 482.6,74.0 482.6,73.3 482.5,73.2 483.3,71.9 483.5,71.2 483.8,70.8 483.9,71.3 484.2,70.6 483.8,69.4 484.4,70.1 484.6,68.1 484.6,68.2 485.0,68.3 485.7,68.8 486.0,69.1 487.0,69.7 487.1,70.7 486.8,71.0 487.1,70.2 487.7,71.6 487.9,71.5 488.1,71.9 488.0,71.9 488.2,72.0 489.1,74.0 488.9,73.4 489.2,74.5 489.6,73.8 490.0,74.7 489.6,73.4 489.8,73.3 490.1,72.2 490.2,72.3 490.5,71.7 490.7,71.2 491.1,70.7 491.1,71.1 491.1,70.1 491.4,69.8 491.1,68.9 491.2,67.7 491.7,67.8 491.6,66.8 491.6,67.5 492.1,67.5 492.5,68.7 492.8,67.8 493.3,68.2 493.3,69.4 493.1,70.3 493.3,70.4 493.0,71.1 493.2,71.1 493.5,71.0 493.2,71.5 493.8,72.6 493.5,72.8 493.6,72.7 493.2,72.9 493.6,74.3 494.0,74.8 493.9,75.9 493.7,75.3 493.7,75.7 494.0,76.5 493.5,77.6 493.8,77.7 493.8,77.9 493.9,77.5 493.5,79.1 493.7,78.5 494.0,80.0 494.0,79.8 493.5,81.0 493.6,81.3 493.9,81.0 493.4,82.1 494.0,82.5 494.1,82.3 494.0,83.2 493.9,83.4 493.6,84.3 493.9,85.4 493.9,85.1 493.9,85.8 493.7,85.7 493.9,86.3 493.5,86.4 493.9,87.8 494.2,87.9 494.5,88.1 494.3,89.4 494.7,89.2 495.1,89.0 495.0,91.0 495.4,90.2 495.5,91.3 495.8,91.4 495.9,92.4 496.3,92.2 496.1,92.3 496.5,92.6 497.2,92.8 497.2,94.2 497.9,93.9 498.4,92.9 498.9,94.3 499.3,94.1 500.2,93.7 500.2,93.8 501.1,93.6 501.1,93.6 502.1,93.6 501.9,92.9 502.7,92.6 502.7,93.2 503.4,93.4 503.7,93.5 504.2,92.6 504.2,92.5 504.4,92.1 504.3,91.7 504.5,90.4 504.0,91.3 504.6,89.3 504.7,89.9 504.7,89.6 504.5,88.1 504.8,88.7 504.7,87.4 504.7,88.2 504.9,86.4 505.3,87.3 504.8,85.5 505.3,85.4 505.2,85.4 505.2,84.8 505.2,83.7 505.6,83.6 505.9,82.6 506.0,82.4 505.7,81.6 505.8,82.8 505.9,82.0 506.5,81.3 506.1,80.4 506.2,79.6 506.5,79.0 506.8,79.2 506.7,78.3 506.7,77.5 507.1,77.0 507.3,76.9 507.6,76.5 507.8,77.2 508.0,75.5 508.1,75.4 508.2,75.0 508.0,74.2 508.3,73.9 508.4,74.0 508.2,72.4 508.2,72.6 508.4,72.4 508.2,71.8 508.9,72.2 508.9,71.3 508.9,71.4 509.1,69.9 509.0,70.3 509.1,69.1"/>
<line x1="328.59999999999997" y1="223.2" x2="510.3" y2="223.2" stroke="#444" stroke-width="1.3"/>
<line x1="329.2" y1="223.2" x2="329.2" y2="225.2" stroke="#444" stroke-width="1.0"/>
<line x1="389.4" y1="223.2" x2="389.4" y2="225.2" stroke="#444" stroke-width="1.0"/>
<line x1="449.3" y1="223.2" x2="449.3" y2="225.2" stroke="#444" stroke-width="1.0"/>
<line x1="119.4" y1="321.5" x2="238.6" y2="321.5" stroke="#9a9a9a" stroke-width="1.2"/>
<line x1="238.6" y1="321.5" x2="238.6" y2="445.8" stroke="#d8d8d8" stroke-width="1.0"/>
<line x1="119.4" y1="321.5" x2="119.4" y2="445.8" stroke="#9a9a9a" stroke-width="1.2"/>
<line x1="117.60000000000001" y1="321.5" x2="119.4" y2="321.5" stroke="#888" stroke-width="1.0"/>
<line x1="117.60000000000001" y1="342.3" x2="119.4" y2="342.3" stroke="#888" stroke-width="1.0"/>
<line x1="117.60000000000001" y1="363.1" x2="119.4" y2="363.1" stroke="#888" stroke-width="1.0"/>
<line x1="117.60000000000001" y1="383.9" x2="119.4" y2="383.9" stroke="#888" stroke-width="1.0"/>
<line x1="117.60000000000001" y1="404.7" x2="119.4" y2="404.7" stroke="#888" stroke-width="1.0"/>
<line x1="117.60000000000001" y1="425.5" x2="119.4" y2="425.5" stroke="#888" stroke-width="1.0"/>
<rect x="145.2" y="367.9" width="34" height="77.90000000000003" fill="#fff" stroke="#8a8a8a" stroke-width="1.1"/>
<rect x="179.2" y="341.4" width="34.4" height="104.40000000000003" fill="#000"/>
<line x1="162" y1="358.3" x2="162" y2="367.9" stroke="#999" stroke-width="1.1"/>
<line x1="196.2" y1="332" x2="196.2" y2="341.6" stroke="#888" stroke-width="1.1"/>
<line x1="119.4" y1="445.8" x2="145.2" y2="445.8" stroke="#999" stroke-width="1.4"/>
<line x1="145.2" y1="445.8" x2="179.2" y2="445.8" stroke="#444" stroke-width="1.4"/>
<line x1="213.6" y1="445.8" x2="238.6" y2="445.8" stroke="#999" stroke-width="1.4"/>
<line x1="316.9" y1="321.9" x2="432.1" y2="321.9" stroke="#9a9a9a" stroke-width="1.3"/>
<line x1="432.1" y1="321.9" x2="432.1" y2="444.7" stroke="#aaaaaa" stroke-width="1.1"/>
<line x1="316.9" y1="321.9" x2="316.9" y2="444.7" stroke="#8a8a8a" stroke-width="1.3"/>
<line x1="315.09999999999997" y1="321.9" x2="316.9" y2="321.9" stroke="#777" stroke-width="1.0"/>
<line x1="315.09999999999997" y1="342.7" x2="316.9" y2="342.7" stroke="#777" stroke-width="1.0"/>
<line x1="315.09999999999997" y1="363.4" x2="316.9" y2="363.4" stroke="#777" stroke-width="1.0"/>
<line x1="315.09999999999997" y1="384.1" x2="316.9" y2="384.1" stroke="#777" stroke-width="1.0"/>
<line x1="315.09999999999997" y1="404.8" x2="316.9" y2="404.8" stroke="#777" stroke-width="1.0"/>
<line x1="315.09999999999997" y1="425.5" x2="316.9" y2="425.5" stroke="#777" stroke-width="1.0"/>
<rect x="341.6" y="369.3" width="33.1" height="75.39999999999998" fill="#fff" stroke="#555" stroke-width="1.1"/>
<rect x="374.7" y="347.1" width="33.5" height="97.59999999999997" fill="#000"/>
<line x1="358.2" y1="359.1" x2="358.2" y2="369.3" stroke="#777" stroke-width="1.1"/>
<line x1="390.7" y1="339.8" x2="390.7" y2="347.2" stroke="#777" stroke-width="1.1"/>
<line x1="316.9" y1="444.7" x2="432.1" y2="444.7" stroke="#555" stroke-width="1.4"/>
<polygon points="196.20,326.20 196.76,328.13 198.77,328.07 197.10,329.19 197.79,331.08 196.20,329.85 194.61,331.08 195.30,329.19 193.63,328.07 195.64,328.13" fill="#3a3a3a" stroke="#3a3a3a" stroke-width="0.3" stroke-linejoin="round"/>
<polygon points="390.80,333.30 391.39,335.29 393.46,335.23 391.75,336.41 392.45,338.37 390.80,337.10 389.15,338.37 389.85,336.41 388.14,335.23 390.21,335.29" fill="#3a3a3a" stroke="#3a3a3a" stroke-width="0.3" stroke-linejoin="round"/>
<text transform="matrix(0.28333,0.00000,0.00000,0.27500,0.50000,21.52500)" font-family="Liberation Sans" font-weight="bold" font-size="100" fill="#000" stroke="#000" stroke-width="3.22" stroke-linejoin="round">A</text>
<text transform="matrix(0.26429,0.00000,0.00000,0.21370,35.05000,21.90000)" font-family="Liberation Sans" font-weight="bold" font-size="100" fill="#000">i</text>
<text transform="matrix(0.12819,0.00000,0.00000,0.12206,35.87447,38.55588)" font-family="Liberation Serif" font-weight="bold" font-size="100" fill="#000" stroke="#000" stroke-width="1.60" stroke-linejoin="round">1200</text>
<text transform="matrix(0.12378,0.00000,0.00000,0.11940,41.72867,86.06119)" font-family="Liberation Serif" font-weight="bold" font-size="100" fill="#000" stroke="#000" stroke-width="1.65" stroke-linejoin="round">900</text>
<text transform="matrix(0.12168,0.00000,0.00000,0.11940,42.03497,133.06119)" font-family="Liberation Serif" font-weight="bold" font-size="100" fill="#000" stroke="#000" stroke-width="1.66" stroke-linejoin="round">600</text>
<text transform="matrix(0.12676,0.00000,0.00000,0.11493,41.69296,180.27015)" font-family="Liberation Serif" font-weight="bold" font-size="100" fill="#000" stroke="#000" stroke-width="1.66" stroke-linejoin="round">300</text>
<text transform="matrix(0.12619,0.00000,0.00000,0.12239,54.79524,226.55522)" font-family="Liberation Serif" font-weight="bold" font-size="100" fill="#000" stroke="#000" stroke-width="1.61" stroke-linejoin="round">0</text>
<text transform="matrix(0.12857,0.00000,0.00000,0.11642,61.08571,235.66716)" font-family="Liberation Serif" font-weight="bold" font-size="100" fill="#000" stroke="#000" stroke-width="1.63" stroke-linejoin="round">0</text>
<text transform="matrix(0.12947,0.00000,0.00000,0.11045,118.47053,235.97910)" font-family="Liberation Serif" font-weight="bold" font-size="100" fill="#000" stroke="#000" stroke-width="1.67" stroke-linejoin="round">40</text>
<text transform="matrix(0.12581,0.00000,0.00000,0.12687,179.62258,235.84627)" font-family="Liberation Serif" font-weight="bold" font-size="100" fill="#000" stroke="#000" stroke-width="1.58" stroke-linejoin="round">80</text>
<text transform="matrix(0.12391,0.00000,0.00000,0.11029,236.10870,235.87941)" font-family="Liberation Serif" font-weight="bold" font-size="100" fill="#000" stroke="#000" stroke-width="1.71" stroke-linejoin="round">120</text>
<text transform="matrix(0.14448,0.00000,0.00000,0.13222,131.01105,249.82333)" font-family="Liberation Serif" font-weight="bold" font-size="100" fill="#000" stroke="#000" stroke-width="1.45" stroke-linejoin="round">Time (s)</text>
<text transform="matrix(0.00000,-0.12657,0.14000,0.00000,14.86000,205.45314)" font-family="Liberation Serif" font-weight="bold" font-size="100" fill="#000" stroke="#000" stroke-width="1.50" stroke-linejoin="round">Median integrated thrombus</text>
<text transform="matrix(0.00000,-0.12639,0.13077,0.00000,32.15385,205.82639)" font-family="Liberation Serif" font-weight="bold" font-size="100" fill="#000" stroke="#000" stroke-width="1.56" stroke-linejoin="round">ﬂuorescence (arbitrary units)</text>
<text transform="matrix(0.13333,0.00000,0.00000,0.13182,228.76667,77.96818)" font-family="Liberation Serif" font-weight="bold" font-size="100" fill="#000" stroke="#000" stroke-width="1.51" stroke-linejoin="round">-/-</text>
<text transform="matrix(0.13130,0.00000,0.00000,0.12121,221.74351,156.67879)" font-family="Liberation Serif" font-weight="normal" font-size="100" fill="#000" stroke="#000" stroke-width="3.17" stroke-linejoin="round">+/+</text>
<text transform="matrix(0.23902,0.00000,0.00000,0.21370,294.12683,21.90000)" font-family="Liberation Sans" font-weight="bold" font-size="100" fill="#000">ii</text>
<text transform="matrix(0.14922,0.00000,0.00000,0.11493,295.75313,39.57015)" font-family="Liberation Serif" font-weight="bold" font-size="100" fill="#000" stroke="#000" stroke-width="1.53" stroke-linejoin="round">2000</text>
<text transform="matrix(0.14574,0.00000,0.00000,0.11029,296.93404,77.77941)" font-family="Liberation Serif" font-weight="bold" font-size="100" fill="#000" stroke="#000" stroke-width="1.58" stroke-linejoin="round">1600</text>
<text transform="matrix(0.14734,0.00000,0.00000,0.10735,296.62128,113.98529)" font-family="Liberation Serif" font-weight="bold" font-size="100" fill="#000" stroke="#000" stroke-width="1.59" stroke-linejoin="round">1200</text>
<text transform="matrix(0.13916,0.00000,0.00000,0.11045,304.18252,152.07910)" font-family="Liberation Serif" font-weight="bold" font-size="100" fill="#000" stroke="#000" stroke-width="1.61" stroke-linejoin="round">800</text>
<text transform="matrix(0.14069,0.00000,0.00000,0.11642,303.95931,189.76716)" font-family="Liberation Serif" font-weight="bold" font-size="100" fill="#000" stroke="#000" stroke-width="1.56" stroke-linejoin="round">400</text>
<text transform="matrix(0.13333,0.00000,0.00000,0.10299,319.36667,226.79403)" font-family="Liberation Serif" font-weight="bold" font-size="100" fill="#000" stroke="#000" stroke-width="1.71" stroke-linejoin="round">0</text>
<text transform="matrix(0.14048,0.00000,0.00000,0.11194,325.33810,235.97612)" font-family="Liberation Serif" font-weight="bold" font-size="100" fill="#000" stroke="#000" stroke-width="1.59" stroke-linejoin="round">0</text>
<text transform="matrix(0.14632,0.00000,0.00000,0.10896,381.85368,236.18209)" font-family="Liberation Serif" font-weight="bold" font-size="100" fill="#000" stroke="#000" stroke-width="1.58" stroke-linejoin="round">40</text>
<text transform="matrix(0.15054,0.00000,0.00000,0.10896,441.74839,236.38209)" font-family="Liberation Serif" font-weight="bold" font-size="100" fill="#000" stroke="#000" stroke-width="1.56" stroke-linejoin="round">80</text>
<text transform="matrix(0.15290,0.00000,0.00000,0.11029,498.07681,236.37941)" font-family="Liberation Serif" font-weight="bold" font-size="100" fill="#000" stroke="#000" stroke-width="1.54" stroke-linejoin="round">120</text>
<text transform="matrix(0.14942,0.00000,0.00000,0.13222,395.30116,252.72333)" font-family="Liberation Serif" font-weight="bold" font-size="100" fill="#000" stroke="#000" stroke-width="1.42" stroke-linejoin="round">Time (s)</text>
<text transform="matrix(0.00000,-0.12961,0.15444,0.00000,290.95667,210.25922)" font-family="Liberation Serif" font-weight="bold" font-size="100" fill="#000" stroke="#000" stroke-width="1.41" stroke-linejoin="round">Median thrombus area (µm²)</text>
<text transform="matrix(0.15517,0.00000,0.00000,0.12576,491.77931,59.47424)" font-family="Liberation Serif" font-weight="bold" font-size="100" fill="#000" stroke="#000" stroke-width="1.43" stroke-linejoin="round">-/-</text>
<text transform="matrix(0.14809,0.00000,0.00000,0.11818,485.85954,139.08182)" font-family="Liberation Serif" font-weight="normal" font-size="100" fill="#000" stroke="#000" stroke-width="3.02" stroke-linejoin="round">+/+</text>
<text transform="matrix(0.27213,0.00000,0.00000,0.27246,74.14508,290.85000)" font-family="Liberation Sans" font-weight="bold" font-size="100" fill="#000" stroke="#000" stroke-width="3.31" stroke-linejoin="round">B</text>
<text transform="matrix(0.29286,0.00000,0.00000,0.21918,104.45000,291.60000)" font-family="Liberation Sans" font-weight="bold" font-size="100" fill="#000">i</text>
<text transform="matrix(0.10430,0.00000,0.00000,0.08358,106.18710,324.23284)" font-family="Liberation Serif" font-weight="bold" font-size="100" fill="#000" stroke="#000" stroke-width="2.14" stroke-linejoin="round">90</text>
<text transform="matrix(0.10778,0.00000,0.00000,0.08485,105.85333,345.01515)" font-family="Liberation Serif" font-weight="bold" font-size="100" fill="#000" stroke="#000" stroke-width="2.09" stroke-linejoin="round">75</text>
<text transform="matrix(0.10430,0.00000,0.00000,0.08358,106.18710,365.73284)" font-family="Liberation Serif" font-weight="bold" font-size="100" fill="#000" stroke="#000" stroke-width="2.14" stroke-linejoin="round">60</text>
<text transform="matrix(0.10211,0.00000,0.00000,0.08485,106.39789,386.11515)" font-family="Liberation Serif" font-weight="bold" font-size="100" fill="#000" stroke="#000" stroke-width="2.15" stroke-linejoin="round">45</text>
<text transform="matrix(0.10543,0.00000,0.00000,0.08358,106.07826,407.73284)" font-family="Liberation Serif" font-weight="bold" font-size="100" fill="#000" stroke="#000" stroke-width="2.13" stroke-linejoin="round">30</text>
<text transform="matrix(0.11023,0.00000,0.00000,0.08358,105.61818,428.91642)" font-family="Liberation Serif" font-weight="bold" font-size="100" fill="#000" stroke="#000" stroke-width="2.08" stroke-linejoin="round">15</text>
<text transform="matrix(0.10952,0.00000,0.00000,0.08358,111.16190,448.33284)" font-family="Liberation Serif" font-weight="bold" font-size="100" fill="#000" stroke="#000" stroke-width="2.09" stroke-linejoin="round">0</text>
<text transform="matrix(0.09817,0.00000,0.00000,0.09701,153.10183,457.60597)" font-family="Liberation Serif" font-weight="bold" font-size="100" fill="#000" stroke="#000" stroke-width="2.05" stroke-linejoin="round">WT</text>
<text transform="matrix(0.11034,0.00000,0.00000,0.09545,189.65862,457.10455)" font-family="Liberation Serif" font-weight="bold" font-size="100" fill="#000" stroke="#000" stroke-width="1.95" stroke-linejoin="round">-/-</text>
<text transform="matrix(0.00000,-0.11182,0.10986,0.00000,83.58028,463.22364)" font-family="Liberation Serif" font-weight="bold" font-size="100" fill="#000" stroke="#000" stroke-width="1.80" stroke-linejoin="round">Duration thrombi are above 50%</text>
<text transform="matrix(0.00000,-0.11239,0.10330,0.00000,96.53077,468.03717)" font-family="Liberation Serif" font-weight="bold" font-size="100" fill="#000" stroke="#000" stroke-width="1.86" stroke-linejoin="round">maximum ﬂuorescence intensity (s)</text>
<text transform="matrix(0.27317,0.00000,0.00000,0.22466,295.78780,292.00000)" font-family="Liberation Sans" font-weight="bold" font-size="100" fill="#000">ii</text>
<text transform="matrix(0.10652,0.00000,0.00000,0.09853,297.64783,325.20294)" font-family="Liberation Serif" font-weight="bold" font-size="100" fill="#000" stroke="#000" stroke-width="1.95" stroke-linejoin="round">120</text>
<text transform="matrix(0.10652,0.00000,0.00000,0.09853,297.64783,346.40294)" font-family="Liberation Serif" font-weight="bold" font-size="100" fill="#000" stroke="#000" stroke-width="1.95" stroke-linejoin="round">100</text>
<text transform="matrix(0.10000,0.00000,0.00000,0.10000,303.60000,366.60000)" font-family="Liberation Serif" font-weight="bold" font-size="100" fill="#000" stroke="#000" stroke-width="2.00" stroke-linejoin="round">80</text>
<text transform="matrix(0.10000,0.00000,0.00000,0.10000,303.60000,387.90000)" font-family="Liberation Serif" font-weight="bold" font-size="100" fill="#000" stroke="#000" stroke-width="2.00" stroke-linejoin="round">60</text>
<text transform="matrix(0.09789,0.00000,0.00000,0.10000,303.80211,407.50000)" font-family="Liberation Serif" font-weight="bold" font-size="100" fill="#000" stroke="#000" stroke-width="2.02" stroke-linejoin="round">40</text>
<text transform="matrix(0.10109,0.00000,0.00000,0.10000,303.49565,428.30000)" font-family="Liberation Serif" font-weight="bold" font-size="100" fill="#000" stroke="#000" stroke-width="1.99" stroke-linejoin="round">20</text>
<text transform="matrix(0.09524,0.00000,0.00000,0.10000,308.81905,447.70000)" font-family="Liberation Serif" font-weight="bold" font-size="100" fill="#000" stroke="#000" stroke-width="2.05" stroke-linejoin="round">0</text>
<text transform="matrix(0.09573,0.00000,0.00000,0.09104,350.40427,457.01791)" font-family="Liberation Serif" font-weight="bold" font-size="100" fill="#000" stroke="#000" stroke-width="2.14" stroke-linejoin="round">WT</text>
<text transform="matrix(0.10115,0.00000,0.00000,0.11212,386.69540,456.98788)" font-family="Liberation Serif" font-weight="bold" font-size="100" fill="#000" stroke="#000" stroke-width="1.88" stroke-linejoin="round">-/-</text>
<text transform="matrix(0.00000,-0.11196,0.11408,0.00000,278.87183,463.72392)" font-family="Liberation Serif" font-weight="bold" font-size="100" fill="#000" stroke="#000" stroke-width="1.77" stroke-linejoin="round">Duration thrombi are above 50%</text>
<text transform="matrix(0.00000,-0.11185,0.10222,0.00000,292.05333,427.73555)" font-family="Liberation Serif" font-weight="bold" font-size="100" fill="#000" stroke="#000" stroke-width="1.87" stroke-linejoin="round">maximum area (s)</text>
</svg>
</body></html>
